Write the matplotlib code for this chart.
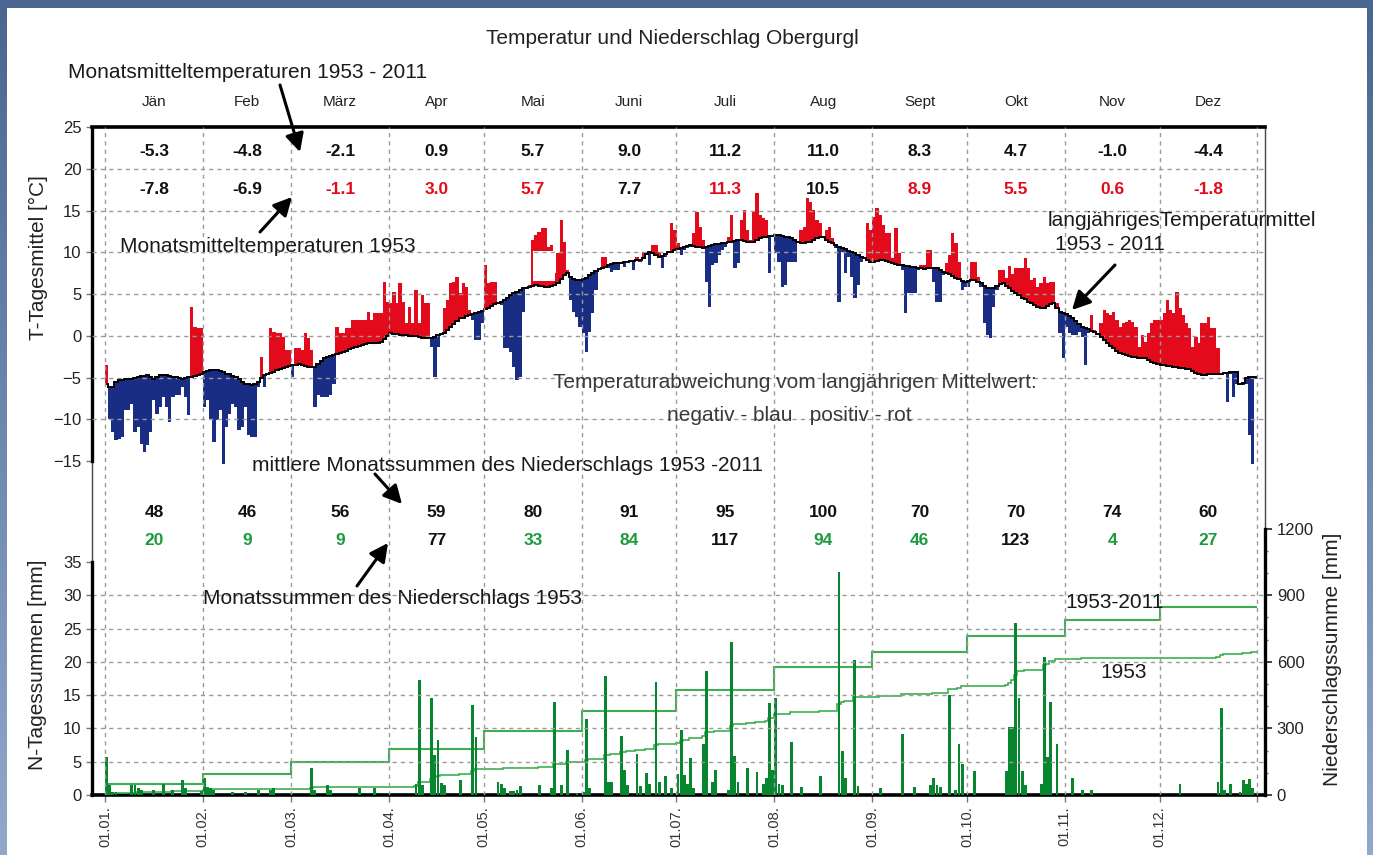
import numpy as np
import matplotlib
matplotlib.use('Agg')
import matplotlib.pyplot as plt
from matplotlib.patches import Rectangle, FancyArrowPatch
from matplotlib.colors import LinearSegmentedColormap

plt.rcParams['font.family'] = ['Liberation Sans', 'DejaVu Sans']

W, H = 1373, 855

# ---- data -------------------------------------------------------------
months = ['Jän', 'Feb', 'März', 'Apr', 'Mai', 'Juni', 'Juli', 'Aug', 'Sept', 'Okt', 'Nov', 'Dez']
date_labels = ['01.01.', '01.02.', '01.03.', '01.04.', '01.05.', '01.06.',
               '01.07.', '01.08.', '01.09.', '01.10.', '01.11.', '01.12.']
month_len = [31, 28, 31, 30, 31, 30, 31, 31, 30, 31, 30, 31]

# monthly means of temperature [°C]
t_month_mean = [-5.3, -4.8, -2.1, 0.9, 5.7, 9.0, 11.2, 11.0, 8.3, 4.7, -1.0, -4.4]
t_month_1953 = [-7.8, -6.9, -1.1, 3.0, 5.7, 7.7, 11.3, 10.5, 8.9, 5.5, 0.6, -1.8]
# monthly precipitation sums [mm]
p_month_mean = [48, 46, 56, 59, 80, 91, 95, 100, 70, 70, 74, 60]
p_month_1953 = [20, 9, 9, 77, 33, 84, 117, 94, 46, 123, 4, 27]

# daily long-term mean temperature 1953-2011, one list per month
t_mean_daily = [
    [-5.7, -6.1, -6.1, -5.5, -5.3, -5.3, -5.2, -5.1, -5.1, -5.0, -4.9, -4.8, -4.8, -4.7, -4.9, -5.1,
     -4.9, -4.7, -4.7, -4.7, -4.8, -4.9, -4.9, -5.0, -5.1, -5.0, -4.9, -4.9, -4.8, -4.7, -4.5],
    [-4.3, -4.2, -4.1, -4.1, -4.1, -4.2, -4.3, -4.5, -4.6, -4.8, -4.9, -5.2, -5.5, -5.7, -5.8, -5.9,
     -5.7, -5.5, -5.0, -4.7, -4.5, -4.4, -4.3, -4.1, -4.0, -3.8, -3.7, -3.6],
    [-3.5, -3.5, -3.4, -3.5, -3.6, -3.7, -3.7, -3.7, -3.4, -3.0, -2.7, -2.5, -2.4, -2.3, -2.2, -2.1,
     -1.9, -1.8, -1.6, -1.4, -1.3, -1.2, -1.1, -1.0, -0.9, -0.9, -0.8, -0.8, -0.7, -0.4, 0.0],
    [0.3, 0.2, 0.2, 0.1, 0.1, 0.1, 0.0, 0.0, 0.0, -0.1, -0.2, -0.3, -0.3, -0.2, -0.1, 0.1,
     0.2, 0.3, 0.7, 1.1, 1.4, 1.8, 2.1, 2.2, 2.4, 2.5, 2.6, 2.8, 2.9, 3.0],
    [3.2, 3.4, 3.6, 3.8, 4.0, 4.1, 4.3, 4.6, 4.9, 5.1, 5.3, 5.5, 5.7, 5.8, 5.9, 6.0,
     6.1, 6.0, 6.0, 5.9, 5.9, 6.0, 6.1, 6.3, 6.8, 7.3, 7.5, 7.1, 6.8, 6.7, 6.7],
    [6.8, 7.0, 7.3, 7.6, 7.8, 8.0, 8.2, 8.3, 8.5, 8.6, 8.7, 8.8, 8.8, 8.9, 8.9, 9.0,
     9.0, 9.1, 9.1, 9.4, 9.8, 10.1, 9.9, 9.7, 9.5, 9.6, 9.8, 10.0, 10.1, 10.3],
    [10.4, 10.5, 10.7, 10.8, 10.9, 10.8, 10.7, 10.6, 10.5, 10.6, 10.8, 10.9, 11.0, 11.0, 11.1, 11.1,
     11.2, 11.3, 11.4, 11.5, 11.5, 11.4, 11.3, 11.3, 11.3, 11.5, 11.7, 11.8, 11.9, 12.0, 12.0],
    [12.1, 12.1, 12.0, 11.9, 11.8, 11.7, 11.5, 11.3, 11.1, 11.1, 11.2, 11.3, 11.5, 11.7, 11.9, 11.8,
     11.5, 11.3, 11.1, 10.9, 10.7, 10.5, 10.4, 10.2, 10.1, 9.9, 9.7, 9.5, 9.3, 9.1, 8.9],
    [8.9, 9.0, 9.1, 9.1, 9.0, 8.9, 8.7, 8.6, 8.5, 8.5, 8.4, 8.4, 8.3, 8.3, 8.2, 8.1,
     8.0, 8.1, 8.2, 8.2, 8.1, 7.9, 7.7, 7.5, 7.4, 7.2, 7.0, 6.8, 6.6, 6.5],
    [6.6, 6.7, 6.7, 6.5, 6.3, 6.0, 5.8, 5.7, 5.8, 6.0, 6.2, 6.3, 6.0, 5.7, 5.4, 5.1,
     4.9, 4.6, 4.4, 4.1, 3.9, 3.7, 3.5, 3.3, 3.4, 3.6, 3.8, 3.9, 3.4, 2.9, 2.7],
    [2.6, 2.4, 2.2, 1.8, 1.4, 1.1, 0.9, 0.8, 0.6, 0.5, 0.2, -0.1, -0.5, -0.9, -1.2, -1.5,
     -1.8, -2.1, -2.2, -2.3, -2.4, -2.5, -2.5, -2.6, -2.6, -2.7, -2.9, -3.1, -3.3, -3.4],
    [-3.5, -3.5, -3.6, -3.6, -3.7, -3.7, -3.8, -3.8, -3.9, -4.0, -4.2, -4.4, -4.6, -4.7, -4.7, -4.6,
     -4.6, -4.5, -4.5, -4.5, -4.4, -4.4, -4.3, -4.3, -4.3, -5.7, -5.6, -5.0, -4.9, -4.9, -4.9],
]

# daily mean temperature 1953
t_1953_daily = [
    [-3.5, -9.9, -11.5, -12.5, -12.3, -12.1, -8.9, -8.9, -8.1, -11.5, -10.9, -12.9, -13.9, -13.1, -11.5, -7.7,
     -9.3, -8.5, -7.3, -8.5, -10.3, -7.3, -7.1, -7.1, -6.1, -7.3, -9.5, 3.5, 1.1, 0.9, 0.9],
    [-8.5, -7.7, -9.9, -12.7, -10.1, -8.9, -15.3, -10.9, -9.3, -8.1, -8.5, -11.3, -10.9, -8.5, -11.9, -12.1,
     -12.1, -6.1, -2.5, -6.1, -4.4, 0.9, 0.5, 0.3, 0.3, -0.1, -1.7, -1.7],
    [-4.9, -1.5, -1.5, -1.7, 0.3, -0.3, -1.7, -8.5, -7.1, -7.3, -7.3, -7.3, -7.1, -5.7, 1.1, 0.3,
     0.3, 0.9, 0.9, 1.9, 1.9, 1.9, 1.9, 1.9, 2.9, 1.9, 2.7, 2.7, 2.7, 6.5, 4.1],
    [3.9, 5.3, 3.9, 6.3, 4.1, 1.5, 3.5, 1.5, 5.5, 1.5, 4.9, 3.9, 3.9, -1.3, -4.9, -1.3,
     0.1, 3.3, 4.3, 6.3, 6.5, 7.1, 5.1, 6.3, 5.9, 3.1, 1.9, -0.5, -0.5, 1.5],
    [8.5, 6.3, 6.5, 6.5, 3.9, 3.7, -1.5, -1.5, -1.9, -3.7, -5.3, -4.9, 2.9, 5.9, 6.1, 11.5,
     12.1, 12.5, 12.9, 12.9, 10.7, 10.9, 7.5, 9.9, 13.9, 11.3, 7.9, 4.3, 2.9, 2.3, 1.1],
    [0.3, -1.9, 0.5, 2.7, 5.5, 8.1, 9.5, 9.5, 8.1, 7.7, 7.9, 7.9, 8.7, 8.3, 8.9, 9.1,
     7.9, 9.5, 8.9, 10.1, 10.1, 8.5, 10.9, 10.9, 10.1, 8.1, 9.5, 10.1, 13.5, 12.7],
    [11.1, 9.7, 10.3, 10.5, 10.7, 12.3, 14.9, 13.1, 11.5, 6.5, 3.5, 8.5, 8.7, 9.7, 10.3, 10.7,
     11.9, 14.5, 8.1, 8.7, 13.9, 15.1, 12.7, 11.5, 14.9, 17.1, 14.5, 14.1, 13.9, 7.5, 11.9],
    [9.9, 8.9, 5.9, 6.1, 8.9, 8.9, 8.9, 11.3, 12.7, 13.1, 16.5, 16.1, 15.1, 13.9, 13.5, 11.7,
     12.7, 13.1, 11.7, 10.5, 4.1, 10.1, 7.5, 9.5, 7.1, 4.5, 6.1, 8.9, 9.5, 13.5, 12.7],
    [14.3, 15.3, 14.5, 13.3, 12.3, 12.3, 9.3, 12.9, 9.9, 7.9, 2.7, 5.1, 5.1, 5.1, 7.9, 8.5,
     8.5, 10.3, 10.3, 6.5, 4.1, 4.1, 7.3, 8.7, 9.7, 12.3, 11.1, 8.9, 5.5, 5.9],
    [5.9, 8.9, 8.9, 7.1, 5.9, 1.5, 0.1, -0.3, 3.5, 5.5, 7.9, 7.9, 7.0, 8.4, 7.4, 8.2,
     8.2, 8.2, 9.4, 8.2, 6.7, 6.9, 5.9, 6.3, 7.1, 6.3, 6.5, 6.5, 3.9, 0.3, -2.7],
    [1.1, 0.3, 0.1, 0.1, 0.5, -0.1, -3.5, 0.3, 2.5, 0.7, 0.1, 1.5, 3.1, 2.7, 2.5, 2.9,
     1.9, 1.1, 1.5, 1.7, 1.9, 1.7, 1.1, -1.3, 0.1, -0.7, 0.3, 1.5, 1.9, 1.9],
    [1.9, 2.7, 4.3, 3.1, 2.7, 5.3, 3.3, 2.5, 1.5, 0.9, -1.3, -0.1, -0.9, 1.5, 1.5, 2.3,
     0.9, 0.9, -1.5, -4.5, -4.5, -7.9, -4.5, -7.3, -5.7, -5.7, -5.9, -5.7, -11.9, -15.3, -5.1],
]

# daily precipitation 1953: day of year (0 = 1 Jan) and amount [mm]
rain_day = [0, 1, 2, 3, 8, 9, 10, 11, 15, 18, 21, 24, 25, 30,
            31, 32, 33, 34, 40, 44, 48, 52, 53,
            65, 66, 70, 71, 80, 85,
            98, 99, 100, 103, 104, 105, 106, 107, 112, 116, 117,
            124, 125, 126, 128, 129, 130, 131, 137, 141, 142, 144, 146, 149,
            151, 152, 153, 158, 159, 160, 163, 164, 165, 168, 169, 171, 172, 174, 175, 177, 179,
            181, 182, 183, 184, 185, 186, 189, 190, 192, 193, 197, 198, 199, 200, 203, 206, 208, 209, 210, 211,
            212, 213, 214, 217, 220, 226, 232, 233, 234, 237, 238,
            245, 252, 256, 261, 262, 263, 264, 267, 269, 270, 271,
            275, 285, 286, 287, 288, 289, 290, 291, 296, 297, 298, 299, 301,
            306, 309, 312,
            340, 352, 353, 354, 356, 359, 360, 361, 362, 363]
rain_mm = [5.7, 1.5, 0.5, 0.5, 1.5, 1.5, 1.0, 0.8, 0.8, 1.7, 0.7, 2.2, 1.0, 0.6,
           2.5, 1.2, 1.0, 0.8, 0.5, 0.5, 0.8, 0.7, 1.0,
           4.0, 0.8, 1.5, 0.7, 1.0, 1.0,
           1.7, 17.3, 1.5, 14.5, 6.0, 8.2, 1.8, 1.5, 2.3, 13.5, 8.7,
           2.0, 1.7, 1.0, 0.6, 0.6, 0.7, 1.3, 1.5, 1.0, 14.0, 1.5, 6.8, 0.3,
           0.5, 11.4, 1.0, 17.9, 2.0, 2.0, 8.8, 3.7, 1.5, 6.1, 1.3, 3.3, 1.7, 16.9, 2.0, 2.9, 1.0,
           3.2, 9.7, 3.0, 1.7, 5.6, 1.0, 7.7, 18.6, 2.0, 3.8, 0.7, 23.0, 5.8, 2.0, 4.0, 3.4, 1.7, 2.6, 13.8, 3.7,
           14.5, 1.7, 1.5, 8.0, 1.2, 2.9, 33.5, 6.6, 2.5, 20.3, 1.3,
           1.0, 9.1, 1.2, 1.5, 2.5, 1.5, 1.2, 15.0, 0.7, 7.6, 4.7,
           3.6, 3.6, 10.2, 10.2, 25.9, 14.5, 3.6, 1.5, 1.7, 20.8, 5.7, 14.0, 7.7,
           2.6, 0.7, 0.7,
           1.7, 2.0, 13.1, 0.7, 1.7, 0.5, 2.2, 1.7, 2.4, 1.0]

# ---- derived -------------------------------------------------------------
edges = np.concatenate([[0], np.cumsum(month_len)])
mids = (edges[:-1] + edges[1:]) / 2.0
t_mean = np.concatenate(t_mean_daily)
t_1953 = np.concatenate(t_1953_daily)
days = np.arange(len(t_mean))
rain = np.zeros(len(days))
rain[rain_day] = rain_mm

RED = '#e30a1c'
BLUE = '#1a2d85'
GREEN = '#07862f'
LGREEN = '#3daf52'
TGREEN = '#1d9a3e'
GRID = '#9a9a9a'


def fp(x, y):
    return (x / W, 1 - y / H)


fig = plt.figure(figsize=(W / 100, H / 100), dpi=100)

# blue frame with gradient and white sheet
bg = fig.add_axes([0, 0, 1, 1], zorder=-10)
cm = LinearSegmentedColormap.from_list('frame', ['#4a6690', '#92a8cb'])
bg.imshow(np.linspace(0, 1, 256)[:, None], aspect='auto', cmap=cm, extent=[0, 1, 0, 1])
bg.axis('off')
fig.add_artist(Rectangle((7 / W, 0), 1360 / W, 847 / H, transform=fig.transFigure,
                         facecolor='white', edgecolor='none', zorder=-5))

rect = [92 / W, 1 - 795 / H, (1265 - 92) / W, (795 - 127.3) / H]
ax = fig.add_axes(rect, zorder=0)
ax_c = fig.add_axes(rect, zorder=0.1, sharex=ax)
ax_p = fig.add_axes(rect, zorder=0.2, sharex=ax)
for a in (ax, ax_c, ax_p):
    a.patch.set_visible(False)

ax.set_xlim(-4.1, 367.4)
ax.set_ylim(-55.0, 25.0)
ax_p.set_ylim(0, 100.3)
ax_c.set_ylim(0, 3009)

# ---- temperature ----
dev = t_1953 - t_mean
ax.bar(days + 0.5, dev, bottom=t_mean, width=1.06, linewidth=0,
       color=np.where(dev >= 0, RED, BLUE), zorder=1)
ax.add_patch(Rectangle((135.6, 6.6), 6.9, 3.6, facecolor='white', edgecolor='none', zorder=2))
for v in [20, 15, 10, 5, 0, -5, -10]:
    ax.axhline(v, color=GRID, lw=1.0, ls=(0, (3, 3)), zorder=3)
ax.stairs(t_mean, np.arange(len(t_mean) + 1), baseline=None, color='black', lw=1.4, zorder=4)

for i in range(12):
    ax.text(mids[i], 28.0, months[i], ha='center', va='center', fontsize=11, color='#222', clip_on=False)
    ax.text(mids[i], 22.05, f'{t_month_mean[i]:.1f}', ha='center', va='center',
            fontsize=12.5, fontweight='bold', color='#111')
    c = RED if t_month_1953[i] >= t_month_mean[i] else '#111'
    ax.text(mids[i], 17.5, f'{t_month_1953[i]:.1f}', ha='center', va='center',
            fontsize=12.5, fontweight='bold', color=c)
    ax_p.text(mids[i], 42.4, str(p_month_mean[i]), ha='center', va='center',
              fontsize=12.5, fontweight='bold', color='#111')
    c = '#111' if p_month_1953[i] > p_month_mean[i] else TGREEN
    ax_p.text(mids[i], 38.2, str(p_month_1953[i]), ha='center', va='center',
              fontsize=12.5, fontweight='bold', color=c)

# ---- precipitation ----
ax_c.stairs(np.cumsum(p_month_mean), edges, baseline=None, color=LGREEN, lw=1.5)
ax_c.stairs(np.cumsum(rain), np.arange(len(rain) + 1), baseline=None, color=LGREEN, lw=1.2)
ax_p.bar(np.array(rain_day) + 0.5, rain_mm, width=0.9, color=GREEN, linewidth=0, zorder=1)
for v in range(5, 35, 5):
    ax_p.axhline(v, color=GRID, lw=1.0, ls=(0, (3, 3)), zorder=2)
for e in edges:
    ax_p.axvline(e, color=GRID, lw=1.0, ls=(0, (3, 3)), zorder=2)

# ---- spines ----
for a in (ax, ax_c, ax_p):
    for s in a.spines.values():
        s.set_visible(False)
for s in ('top', 'bottom'):
    ax.spines[s].set_visible(True)
    ax.spines[s].set_linewidth(2.6)
    ax.spines[s].set_color('black')
ax.spines['left'].set_visible(True)
ax.spines['left'].set_bounds(-15, 25)
ax.spines['left'].set_linewidth(2.4)
ax_p.spines['left'].set_visible(True)
ax_p.spines['left'].set_bounds(0, 35)
ax_p.spines['left'].set_linewidth(2.4)
ax_c.spines['right'].set_visible(True)
ax_c.spines['right'].set_bounds(0, 1200)
ax_c.spines['right'].set_linewidth(2.4)
ax.plot([0, 0], [-55, 25], transform=ax.get_yaxis_transform(), color='#444', lw=1.0, clip_on=False, zorder=0)
ax.plot([1, 1], [-55, 25], transform=ax.get_yaxis_transform(), color='#444', lw=1.0, clip_on=False, zorder=0)

# ---- ticks ----
ax.set_xticks(edges)
ax.set_xticklabels(date_labels + [''], rotation=90, fontsize=10.5, color='#333')
ax.tick_params(axis='x', direction='out', length=5, width=1, color='#777', pad=3)
ax.set_yticks([25, 20, 15, 10, 5, 0, -5, -10, -15])
ax.tick_params(axis='y', direction='out', length=4, width=1, color='#777', labelsize=12, labelcolor='#222')
ax_p.set_yticks(range(0, 40, 5))
ax_p.tick_params(axis='y', direction='out', length=4, width=1, color='#777', labelsize=12, labelcolor='#222')
ax_p.tick_params(axis='x', which='both', bottom=False, labelbottom=False)
ax_c.tick_params(axis='x', which='both', bottom=False, labelbottom=False)
ax_c.yaxis.tick_right()
ax_c.set_yticks([0, 300, 600, 900, 1200])
ax_c.set_yticks([100, 200, 400, 500, 700, 800, 1000, 1100], minor=True)
ax_c.tick_params(axis='y', which='major', direction='out', length=5, width=1.2, color='#222',
                 labelsize=12, labelcolor='#222')
ax_c.tick_params(axis='y', which='minor', direction='out', length=2.5, width=1, color='#777')

# ---- labels and annotations ----
fig.text(*fp(672, 38), 'Temperatur und Niederschlag Obergurgl', ha='center', va='center',
         fontsize=15, color='#222')
fig.text(*fp(38, 258), 'T-Tagesmittel [°C]', rotation=90, ha='center', va='center', fontsize=15, color='#222')
fig.text(*fp(38, 665), 'N-Tagessummen [mm]', rotation=90, ha='center', va='center', fontsize=15, color='#222')
fig.text(*fp(1333, 659), 'Niederschlagssumme [mm]', rotation=90, ha='center', va='center',
         fontsize=15, color='#222')

notes = [
    (68, 73, 'Monatsmitteltemperaturen 1953 - 2011', '#1a1a1a'),
    (120, 247, 'Monatsmitteltemperaturen 1953', '#1a1a1a'),
    (1048, 220, 'langjährigesTemperaturmittel', '#1a1a1a'),
    (1055, 244, '1953 - 2011', '#1a1a1a'),
    (553, 382, 'Temperaturabweichung vom langjährigen Mittelwert:', '#3a3a3a'),
    (667, 415, 'negativ - blau   positiv - rot', '#3a3a3a'),
    (252, 465, 'mittlere Monatssummen des Niederschlags 1953 -2011', '#1a1a1a'),
    (203, 598, 'Monatssummen des Niederschlags 1953', '#1a1a1a'),
    (1065, 603, '1953-2011', '#1a1a1a'),
    (1100, 673, '1953', '#1a1a1a'),
]
for x, y, s, c in notes:
    fig.text(*fp(x, y), s, ha='left', va='center', fontsize=15, color=c, zorder=6)

arrows = [((280, 85), (300, 152)), ((260, 232), (292, 197)), ((1115, 265), (1072, 310)),
          ((375, 474), (402, 504)), ((357, 586), (388, 543))]
for a0, a1 in arrows:
    fig.add_artist(FancyArrowPatch(fp(*a0), fp(*a1), transform=fig.transFigure,
                                   arrowstyle='-|>,head_length=0.55,head_width=0.28', mutation_scale=20,
                                   lw=2.2, color='black', shrinkA=0, shrinkB=0, zorder=7))

fig.savefig('out.png', dpi=100)
